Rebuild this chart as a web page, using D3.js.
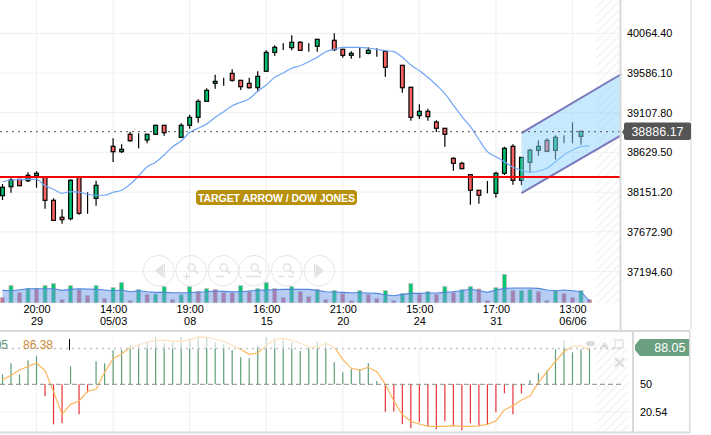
<!DOCTYPE html>
<html>
<head>
<meta charset="utf-8">
<script src="https://cdnjs.cloudflare.com/ajax/libs/d3/7.8.5/d3.min.js"></script>
<style>
html, body { margin: 0; padding: 0; background: #fff; }
svg { display: block; font-family: "Liberation Sans", Arial, sans-serif; }
.domain { display: none; }
</style>
</head>
<body>
<svg id="viz" width="711" height="435"></svg>
<script>
// candles, oldest first
var opens = [38108,38216,38305,38288,38349,38333,38052,37848,37831,38337,38076,38076,38225,38703,38638,38848,38775,38779,38848,38956,38879,38811,38956,39052,39245,39462,39493,39582,39498,39462,39409,39607,39835,39896,39891,39956,39899,39908,39992,39980,39872,39799,39827,39823,39843,39848,39667,39679,39414,39072,39125,38996,38920,38558,38498,38361,38173,38137,38137,38378,38703,38293,38510,38655,38775,38655,38803,38827,38823,38879];
var highs = [38249,38333,38309,38390,38402,38333,38076,37944,38305,38337,38149,38288,38225,38799,38727,38879,38860,38851,38963,38956,38879,38980,39084,39269,39402,39566,39530,39631,39498,39530,39607,39860,39920,39944,40040,39968,39944,39992,39992,40064,39872,39848,39891,39896,39884,39855,39667,39679,39421,39209,39156,39016,38920,38570,38517,38361,38173,38285,38397,38698,38727,38570,38674,38775,38799,38835,38835,38992,38884,38879];
var lows = [38056,38144,38225,38273,38204,37951,37811,37770,37811,37879,37891,37987,38225,38514,38622,38758,38679,38739,38848,38831,38879,38811,38915,38987,39245,39397,39433,39481,39381,39397,39361,39607,39794,39863,39860,39860,39843,39843,39992,39851,39770,39758,39767,39811,39782,39541,39667,39349,39011,39032,39011,38875,38698,38409,38426,38000,38012,38137,38084,38357,38240,38237,38390,38590,38643,38542,38739,38739,38722,38879];
var closes = [38209,38297,38228,38354,38378,38052,37811,37819,38293,37896,38076,38233,38225,38638,38667,38770,38775,38848,38956,38867,38879,38956,39052,39245,39378,39486,39493,39498,39421,39409,39546,39835,39896,39896,39956,39860,39899,39992,39992,39867,39799,39823,39827,39860,39843,39655,39667,39409,39052,39125,39060,38920,38848,38498,38433,38173,38113,38137,38378,38679,38293,38570,38655,38703,38643,38811,38803,38827,38884,38879];
var priceMa = [38273,38297,38301,38305,38305,38228,38185,38137,38156,38152,38125,38113,38113,38149,38173,38245,38345,38457,38510,38598,38698,38767,38869,38920,38972,39052,39120,39192,39233,39276,39366,39441,39534,39586,39643,39674,39722,39775,39843,39872,39896,39896,39896,39887,39872,39855,39843,39775,39682,39614,39534,39441,39337,39200,39060,38941,38785,38638,38578,38517,38450,38414,38390,38405,38438,38517,38598,38658,38698,38707];

var volumes = [5,17,10,14,14,17,19,3,17,13,7,17,4,15,20,2,13,8.3,8.7,16,3,8,16,11,14,13,10,10,17,11,14,20,14,5,16,11,6,13,3,12,9.3,2,12,8,4,12,2,9,19,8.7,11,8.3,16,10,13,16,13.7,2,15,28.3,12,12,13,11,2,12,9,5,12,3];
var volumeUp = [0,1,0,1,0,1,1,0,1,0,0,1,0,1,1,0,1,0,1,1,0,1,1,0,1,0,0,0,1,0,1,1,0,0,1,0,0,1,0,1,0,0,1,0,0,1,0,1,1,0,1,0,1,0,1,1,0,0,1,1,0,1,1,0,0,1,0,0,1,0];
var volumeMa = [12.3,12,13,14,14,14,14,12.3,13.3,14,13.7,13.3,12.7,12,12.7,11,12,11,10.3,10.3,10,10,10,10.7,11,11.7,11.3,11,11,11.7,12.3,12.7,13,13.3,13.3,13.3,13.3,12.3,11,10.7,10.3,10,10,9.7,9.3,8,7,8.3,9.3,9.3,9.7,9.7,10.3,11,12,13.7,12,10.3,12.7,14.3,14.7,14.7,14.7,14.3,12.7,12,12.7,12,11,1.7];

var histValues = [60.6,72.3,60.6,75.5,79.8,37.2,7.4,8.5,69.1,18.1,41.5,74.5,72.3,86.2,86.5,91.8,92.6,94.7,100,93.6,94.7,100,98.9,100.7,100,94.7,92.6,86.5,78.7,77.7,91.5,100,98.9,96.8,94.7,85.5,89,95.7,94.7,73.4,62.8,66,66,72.3,53.5,20.9,20.9,7.4,3.2,9.6,5.3,2.1,10.6,5.3,1,8.5,5.3,7.4,20.2,40.4,18.1,40.4,54.3,61.7,64.9,87.2,96.8,84,87.2,88.3];
var stochValues = [54.6,59.6,65.2,69.1,72.7,64.5,42.2,18.1,28.7,32.3,42.6,44.7,62.8,77.3,82.3,89.4,91.5,94.7,96.8,96.8,95.7,95.7,97.2,100.4,100,97.9,95.7,91.5,87.2,81.9,83.3,91.5,97.5,98.9,96.8,93.6,90.1,89.4,93.6,89.4,76.6,67,65.2,68.1,63.5,50,32.3,17.7,10.6,7.8,5.3,5.3,5.3,6,5.3,5.3,5.7,7.4,11,22.7,27.3,33.3,37.6,52.1,63.5,74.5,84.8,90.4,90.8,87.2];

var priceTicks = [40064.40, 39586.10, 39107.80, 38629.50, 38151.20, 37672.90, 37194.60];
var timeTickIndex = [4, 13, 22, 31, 40, 49, 58, 67];
var timeTickHour = ["20:00", "14:00", "19:00", "16:00", "21:00", "15:00", "17:00", "13:00"];
var timeTickDay = ["29", "05/03", "08", "15", "20", "24", "31", "06/06"];

var lastPrice = 38886.17;
var targetPrice = 38333;
var channelX = [61, 72.75];
var channelTop = [38863, 39574];
var channelBottom = [38140, 38839];
var stochLast = 88.05;
var stochMid = 50;
var stochLow = 20.54;

var width = 711, height = 435;
var plotRight = 620;
var lowerRight = 632;
var green = "#00bf6f", red = "#ff6464";

var svg = d3.select("#viz");
var defs = svg.append("defs");
var hatch = defs.append("pattern").attr("id", "hatch")
    .attr("patternUnits", "userSpaceOnUse").attr("width", 6).attr("height", 6)
    .attr("patternTransform", "rotate(45)");
hatch.append("rect").attr("width", 1.6).attr("height", 6).attr("fill", "#f3f3f3");

var x = d3.scaleLinear().domain([0, 69]).range([2.5, 589.5]);
var y = d3.scaleLinear().domain([37194.6, 40064.4]).range([271.5, 33.3]);
var yVol = d3.scaleLinear().domain([0, 30]).range([302.7, 272.7]);
var yStoch = d3.scaleLinear().domain([stochLow, stochMid]).range([412, 384.3]);
var idx = d3.range(opens.length);

// future zone hatching
svg.append("rect").attr("x", 596).attr("y", 0).attr("width", plotRight - 596).attr("height", 303).attr("fill", "url(#hatch)");
svg.append("rect").attr("x", 596).attr("y", 332).attr("width", lowerRight - 4 - 596).attr("height", 99).attr("fill", "url(#hatch)");

// grid
var grid = svg.append("g").attr("stroke", "#f1f1f1").attr("stroke-width", 1.2);
grid.selectAll(".h").data(priceTicks).enter().append("line")
    .attr("x1", 0).attr("x2", plotRight)
    .attr("y1", function(d) { return y(d); }).attr("y2", function(d) { return y(d); });
grid.selectAll(".v").data(timeTickIndex).enter().append("line")
    .attr("x1", function(d) { return x(d); }).attr("x2", function(d) { return x(d); })
    .attr("y1", 0).attr("y2", 304);
grid.selectAll(".v2").data(timeTickIndex).enter().append("line")
    .attr("x1", function(d) { return x(d); }).attr("x2", function(d) { return x(d); })
    .attr("y1", 332).attr("y2", 431);
grid.append("line").attr("x1", 0).attr("x2", lowerRight).attr("y1", yStoch(stochLow)).attr("y2", yStoch(stochLow));

// volume
svg.append("g").selectAll("rect").data(idx).enter().append("rect")
    .attr("x", function(i) { return x(i) - 2; })
    .attr("width", 4)
    .attr("y", function(i) { return yVol(volumes[i]); })
    .attr("height", function(i) { return yVol(0) - yVol(volumes[i]); })
    .attr("fill", function(i) { return volumeUp[i] ? "#00c96f" : "#e0607a"; })
    .attr("stroke", "#b9b9b9").attr("stroke-width", 0.8);
var volArea = d3.area().x(function(i) { return x(i); }).y0(yVol(0)).y1(function(i) { return yVol(volumeMa[i]); });
svg.append("path").datum(idx).attr("d", volArea).attr("fill", "#6f9be8").attr("fill-opacity", 0.5);
var volLine = d3.line().x(function(i) { return x(i); }).y(function(i) { return yVol(volumeMa[i]); });
svg.append("path").datum(idx).attr("d", volLine).attr("fill", "none").attr("stroke", "#4f86e0").attr("stroke-width", 1.1);

// candles
var candle = svg.append("g").selectAll("g").data(idx).enter().append("g");
candle.append("line")
    .attr("x1", function(i) { return x(i); }).attr("x2", function(i) { return x(i); })
    .attr("y1", function(i) { return y(highs[i]); }).attr("y2", function(i) { return y(lows[i]); })
    .attr("stroke", "#000").attr("stroke-width", 1.2);
candle.append("rect")
    .attr("x", function(i) { return x(i) - 1.9; })
    .attr("width", 3.8)
    .attr("y", function(i) { return y(Math.max(opens[i], closes[i])); })
    .attr("height", function(i) { return Math.abs(y(opens[i]) - y(closes[i])); })
    .attr("fill", function(i) { return closes[i] >= opens[i] ? green : red; })
    .attr("stroke", function(i) { return highs[i] == lows[i] ? "#555" : "#000"; })
    .attr("stroke-width", function(i) { return highs[i] == lows[i] ? 0.9 : 1.2; });

// moving average
var maLine = d3.line().x(function(i) { return x(i); }).y(function(i) { return y(priceMa[i]); }).curve(d3.curveMonotoneX);
svg.append("path").datum(idx).attr("d", maLine).attr("fill", "none").attr("stroke", "#6ea6f7").attr("stroke-width", 1.2);

// trend channel
var channelArea = d3.area().x(function(d, i) { return x(channelX[i]); })
    .y0(function(d, i) { return y(channelBottom[i]); })
    .y1(function(d, i) { return y(channelTop[i]); });
svg.append("path").datum(channelX).attr("d", channelArea).attr("fill", "#90d4fc").attr("fill-opacity", 0.5);
var channelLine = d3.line().x(function(d, i) { return x(channelX[i]); }).y(function(d) { return y(d); });
[channelTop, channelBottom].forEach(function(c) {
    svg.append("path").datum(c).attr("d", channelLine).attr("fill", "none").attr("stroke", "#7a78bd").attr("stroke-width", 2);
});

// last price and target levels
svg.append("line").attr("x1", 0).attr("x2", plotRight).attr("y1", y(lastPrice) + 0.6).attr("y2", y(lastPrice) + 0.6)
    .attr("stroke", "#555").attr("stroke-width", 1).attr("stroke-dasharray", "2,4");
svg.append("line").attr("x1", 0).attr("x2", plotRight).attr("y1", y(targetPrice)).attr("y2", y(targetPrice))
    .attr("stroke", "#f40000").attr("stroke-width", 2);
svg.append("rect").attr("x", 196).attr("y", 190).attr("width", 161).attr("height", 15).attr("rx", 4).attr("fill", "#b8900c");
svg.append("text").attr("x", 276.5).attr("y", 201.5).attr("text-anchor", "middle")
    .attr("fill", "#fff").attr("font-size", 10.5).attr("font-weight", "bold")
    .attr("textLength", 157).attr("lengthAdjust", "spacing")
    .text("TARGET ARROW / DOW JONES");

// stochastic pane
svg.append("g").selectAll("line").data(idx).enter().append("line")
    .attr("x1", function(i) { return x(i); }).attr("x2", function(i) { return x(i); })
    .attr("y1", yStoch(stochMid)).attr("y2", function(i) { return yStoch(histValues[i]); })
    .attr("stroke", function(i) { return histValues[i] >= stochMid ? "#5d9f78" : "#e8333a"; })
    .attr("stroke-width", 1.2);
var stochLine = d3.line().x(function(i) { return x(i); }).y(function(i) { return yStoch(stochValues[i]); });
svg.append("path").datum(idx).attr("d", stochLine).attr("fill", "none").attr("stroke", "#fcb75c").attr("stroke-width", 1.2);
// top of the pane is washed out
svg.append("rect").attr("x", 0).attr("y", 332).attr("width", lowerRight).attr("height", yStoch(stochLast) - 332).attr("fill", "#fff").attr("fill-opacity", 0.62);
svg.append("line").attr("x1", 0).attr("x2", 622).attr("y1", yStoch(stochMid)).attr("y2", yStoch(stochMid))
    .attr("stroke", "#8a8a8a").attr("stroke-width", 1).attr("stroke-dasharray", "5,3");
svg.append("line").attr("x1", 0).attr("x2", 622).attr("y1", yStoch(stochLast)).attr("y2", yStoch(stochLast))
    .attr("stroke", "#c4c4c4").attr("stroke-width", 1.4).attr("stroke-dasharray", "2,4");

svg.append("text").attr("x", 8).attr("y", 349).attr("text-anchor", "end").attr("font-size", 12).attr("fill", "#5f8f73").text("05");
svg.append("text").attr("x", 23).attr("y", 349).attr("font-size", 12).attr("fill", "#c98a3a").text("86.38");
svg.append("line").attr("x1", 69.5).attr("x2", 69.5).attr("y1", 339).attr("y2", 350).attr("stroke", "#000");

// pane borders
var border = svg.append("g").attr("fill", "#d9d9d9");
border.append("rect").attr("x", 619.5).attr("y", 0).attr("width", 2).attr("height", 330);
border.append("rect").attr("x", 690.5).attr("y", 0).attr("width", 1).attr("height", 330);
border.append("rect").attr("x", 0).attr("y", 330).attr("width", 690).attr("height", 2);
border.append("rect").attr("x", 0).attr("y", 431.5).attr("width", 690).attr("height", 2);
border.append("rect").attr("x", 632).attr("y", 331).attr("width", 2).attr("height", 102);
border.append("rect").attr("x", 689).attr("y", 331).attr("width", 1.5).attr("height", 102);

// axes
var priceAxis = d3.axisRight(y).tickValues(priceTicks).tickSize(0).tickPadding(0)
    .tickFormat(function(d) { return d.toFixed(2); });
svg.append("g").attr("transform", "translate(627,0)").call(priceAxis)
    .selectAll("text").attr("font-size", 10.9).attr("fill", "#000").attr("font-family", "inherit");

var timeAxis = d3.axisBottom(x).tickValues(timeTickIndex).tickSize(0).tickPadding(0)
    .tickFormat(function(d, i) { return timeTickHour[i]; });
var timeG = svg.append("g").attr("transform", "translate(0,305)").call(timeAxis);
timeG.selectAll("text").attr("font-size", 10.9).attr("fill", "#000").attr("font-family", "inherit");
timeG.selectAll(".tick").append("text")
    .attr("y", 19.5).attr("fill", "#000").attr("font-size", 10.9).attr("text-anchor", "middle")
    .text(function(d, i) { return timeTickDay[i]; });

var stochAxis = d3.axisRight(yStoch).tickValues([stochMid, stochLow]).tickSize(0).tickPadding(0)
    .tickFormat(function(d) { return d == stochMid ? "50" : "20.54"; });
svg.append("g").attr("transform", "translate(640,0)").call(stochAxis)
    .selectAll("text").attr("font-size", 10.9).attr("fill", "#000").attr("font-family", "inherit");

// value badges
svg.append("path").attr("d", "M626,122.5H689a2,2 0 0 1 2,2V138a2,2 0 0 1 -2,2H626a2,2 0 0 1 -2,-2V135L622,132L624,129V124.5a2,2 0 0 1 2,-2Z").attr("fill", "#555");
svg.append("text").attr("x", 657.5).attr("y", 136).attr("text-anchor", "middle").attr("fill", "#fff").attr("font-size", 12.5)
    .text(lastPrice.toFixed(2));
svg.append("path").attr("d", "M640,339H689V356H640L635,350V345Z").attr("fill", "#6a9f80");
svg.append("text").attr("x", 685.5).attr("y", 352).attr("text-anchor", "end").attr("fill", "#fff").attr("font-size", 12.5)
    .text(stochLast.toFixed(2));

// navigation buttons
var btnX = [158.7, 191, 223.3, 254, 286.7, 319.3];
var btnY = 270.7;
var navCol = "#e6e6e6", iconCol = "#e2e2e2";
var nav = svg.append("g");
nav.selectAll("circle").data(btnX).enter().append("circle")
    .attr("cx", function(d) { return d; }).attr("cy", btnY).attr("r", 15.3)
    .attr("fill", "none").attr("stroke", navCol).attr("stroke-width", 1);
nav.append("path").attr("d", "M155,270.7L163,264V277.5Z").attr("fill", iconCol);
nav.append("rect").attr("x", 163.5).attr("y", 264).attr("width", 1.5).attr("height", 13.5).attr("fill", iconCol);
nav.append("path").attr("d", "M316,264L324,270.7L316,277.5Z").attr("fill", iconCol);
nav.append("rect").attr("x", 314).attr("y", 264).attr("width", 1.5).attr("height", 13.5).attr("fill", iconCol);
[191, 223.3, 254, 286.7].forEach(function(cx) {
    nav.append("circle").attr("cx", cx + 0.5).attr("cy", 267.5).attr("r", 3.6).attr("fill", "none").attr("stroke", iconCol).attr("stroke-width", 1.4);
    nav.append("line").attr("x1", cx + 3).attr("x2", cx + 7).attr("y1", 270).attr("y2", 273.5).attr("stroke", iconCol).attr("stroke-width", 1.8);
});
nav.append("path").attr("d", "M183,276.5h7M186.5,273v7M216,276.5h8M246,276.5h15M278,276.5h6M288,276.5h6").attr("stroke", iconCol).attr("stroke-width", 1.4).attr("fill", "none");

// pane tools
var tool = svg.append("g");
tool.append("rect").attr("x", 586).attr("y", 341).attr("width", 9).attr("height", 5).attr("rx", 2.5).attr("fill", "#dcdcdc");
tool.append("path").attr("d", "M600,347.5L604.5,342L609,347.5Z").attr("fill", "#dcdcdc");
tool.append("rect").attr("x", 615).attr("y", 340).attr("width", 8).attr("height", 8).attr("fill", "none").attr("stroke", "#dcdcdc").attr("stroke-width", 1.2);
tool.append("path").attr("d", "M615,358L624,367M624,358L615,367").attr("stroke", "#dcdcdc").attr("stroke-width", 2.4);
</script>
</body>
</html>
